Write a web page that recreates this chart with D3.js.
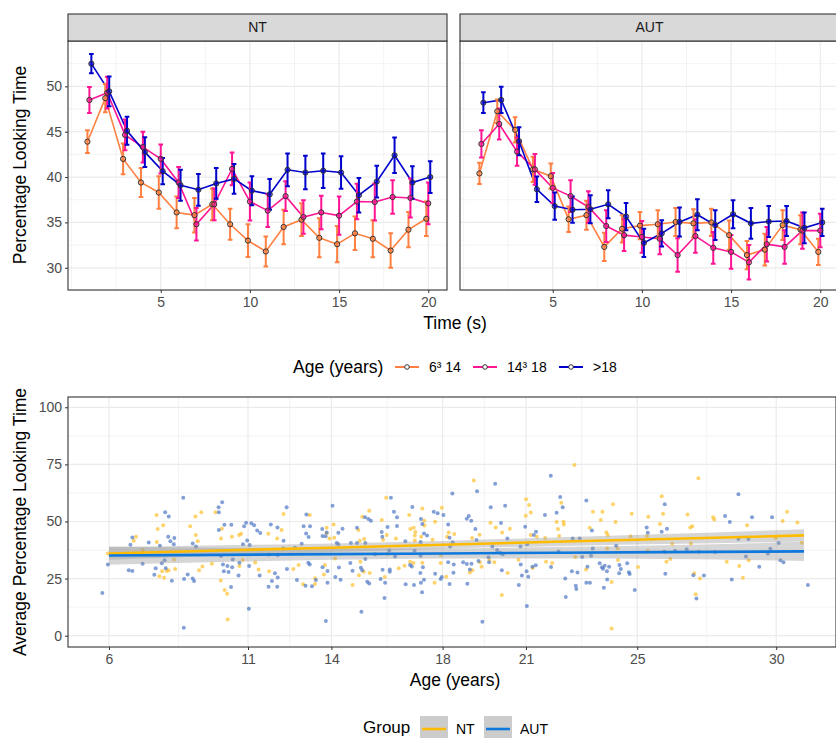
<!DOCTYPE html>
<html>
<head>
<meta charset="utf-8">
<script src="https://cdn.jsdelivr.net/npm/d3@7"></script>
<style>
  body { margin: 0; background: #fff; }
  text { font-family: "Liberation Sans", Arial, Helvetica, sans-serif; }
</style>
</head>
<body>
<svg id="chart" width="836" height="738"></svg>
<script>
// ---- data : looking time over the trial (mean +/- se) ----
var times = [1,2,3,4,5,6,7,8,9,10,11,12,13,14,15,16,17,18,19,20];
var facets = ["NT", "AUT"];
var ageGroups = ["6³ 14", "14³ 18", ">18"];
var ageColors = ["#FF8040", "#FF1493", "#0000CD"];

var ntYoung   = [43.9,48.7,42.0,39.4,38.3,36.1,35.8,37.0,34.8,33.0,31.8,34.5,35.3,33.3,32.6,33.8,33.2,31.9,34.2,35.4];
var ntYoungSe = [1.25,1.55,1.7,1.6,1.8,1.75,1.9,1.75,1.7,1.8,1.65,1.9,1.8,2.15,2.0,1.85,2.05,1.9,1.95,1.9];
var ntMid     = [48.5,49.3,44.65,43.3,42.0,39.4,34.8,37.0,40.9,37.3,36.3,37.9,35.6,36.1,35.75,37.3,37.25,37.8,37.7,37.1];
var ntMidSe   = [1.43,1.75,1.7,1.7,1.6,1.7,1.8,1.75,1.8,2.1,1.8,1.65,1.85,1.85,2.1,1.95,2.05,1.85,2.15,2.3];
var ntOld     = [52.5,49.45,45.1,42.75,40.65,39.1,38.6,39.3,39.8,38.5,38.1,40.8,40.5,40.7,40.5,38.0,39.5,42.4,39.4,40.0];
var ntOldSe   = [1.06,1.65,1.55,1.65,1.45,1.7,1.75,1.7,1.65,1.6,1.7,1.8,1.85,1.9,1.8,1.9,1.75,1.95,1.8,1.75];

var autYoung   = [40.4,47.25,45.2,40.85,40.1,35.35,35.8,32.3,34.3,34.65,34.8,35.05,34.9,35.0,33.6,31.4,32.0,34.7,34.2,31.75];
var autYoungSe = [1.17,1.3,1.4,1.4,1.4,1.4,1.6,1.55,1.5,1.5,1.55,1.55,1.55,1.5,1.6,1.55,1.75,1.65,1.6,1.45];
var autMid     = [43.65,45.85,42.8,40.85,38.8,37.9,36.7,34.6,33.6,33.4,33.2,31.4,33.5,32.2,31.75,30.6,32.6,32.3,34.1,34.1];
var autMidSe   = [1.5,1.7,1.55,1.7,1.65,1.75,1.75,1.75,1.75,1.75,1.7,1.85,1.85,1.75,1.85,1.9,1.9,1.85,2.0,1.85];
var autOld     = [48.2,48.5,43.95,38.65,36.8,36.4,36.45,37.0,35.65,32.75,33.8,35.05,35.85,34.7,35.9,34.9,35.1,35.15,34.4,35.0];
var autOldSe   = [1.15,1.45,1.55,1.4,1.5,1.45,1.55,1.55,1.5,1.55,1.45,1.6,1.7,1.65,1.55,1.7,1.7,1.65,1.7,1.5];

var timeTicks = [5,10,15,20];
var lookTicks = [30,35,40,45,50];

// ---- data : average looking time by age, one point per participant [age, %] ----
var groups = ["NT", "AUT"];
var groupColors = ["#FFBB00", "#0F78DC"];
var pointColors = ["#FFC12E", "#4F78C4"];

var autPoints = [
  [5.76,18.7],[5.96,31.2],[8.67,60.4],[8.02,54.0],[8.15,52.2],[6.84,43.0],[6.77,39.8],[7.43,40.8],[7.83,39.4],[8.13,43.3],
  [8.21,41.4],[8.35,42.8],[8.33,40.0],[7.21,31.5],[6.71,28.7],[6.84,28.3],[7.68,29.5],[7.63,26.7],[7.9,31.7],[8.0,33.0],
  [8.04,29.5],[8.26,24.1],[8.7,24.8],[8.83,26.8],[9.01,25.0],[9.06,23.9],[9.01,40.4],[9.13,39.0],[8.69,3.5],[9.94,56.2],
  [10.07,58.4],[9.95,54.0],[9.95,46.3],[10.15,48.6],[10.4,48.6],[10.1,31.2],[10.26,30.5],[10.13,28.2],[10.3,27.9],[10.39,21.3],
  [10.66,26.3],[10.43,30.0],[10.69,31.9],[10.82,40.0],[10.97,41.7],[11.06,39.7],[10.86,47.9],[10.93,49.5],[11.12,49.2],[11.22,48.4],
  [11.33,46.1],[11.44,45.0],[11.03,11.8],[11.04,30.5],[11.42,26.4],[11.82,48.7],[12.06,47.4],[11.74,21.4],[12.05,21.4],[11.86,23.9],
  [11.97,27.3],[12.07,25.5],[11.75,35.6],[12.07,35.3],[10.03,34.9],[10.45,33.4],
  [12.39,56.2],[13.1,53.1],[13.0,47.9],[13.23,47.9],[13.09,44.7],[13.18,43.2],[12.28,41.6],[12.26,38.2],[12.69,38.5],[12.93,40.3],
  [13.67,46.7],[13.83,45.2],[13.68,43.6],[13.79,43.5],[14.04,56.9],[14.25,45.1],[14.4,46.8],[14.19,40.6],[14.25,40.0],[13.86,28.3],
  [13.68,30.0],[12.76,24.4],[12.4,29.2],[13.07,21.9],[13.3,21.7],[13.44,24.4],[13.17,31.9],[13.22,31.2],[13.86,23.2],[14.14,25.7],
  [14.33,24.5],[14.27,29.9],[14.68,31.8],[14.76,28.4],[15.08,10.5],[13.8,6.4],[14.7,40.6],[14.92,40.6],[14.92,47.3],[15.21,51.8],
  [15.33,51.1],[15.42,50.3],[15.22,40.6],[15.06,29.8],[15.11,28.7],[15.29,23.6],[15.36,22.9],[15.22,33.6],[15.57,35.7],[15.91,16.5],
  [15.77,24.8],[15.93,23.2],[15.84,28.9],[16.1,29.0],[16.1,28.0],[15.81,45.4],[15.83,43.3],[16.02,47.6],[16.14,60.4],[16.25,54.3],
  [16.36,51.8],[16.36,48.0],[16.08,37.3],[16.66,41.4],[16.67,22.5],[16.83,30.9],[16.89,30.3],[16.99,37.2],[16.91,56.3],[17.22,51.1],
  [17.27,48.9],[17.33,44.7],[17.44,43.9],[17.21,41.0],[16.97,22.2],[17.22,23.2],[17.33,24.5],[17.26,19.0],[17.2,27.4],[17.29,30.0],
  [17.68,54.3],[17.82,53.6],[18.03,52.8],[18.2,48.7],[18.35,62.2],[18.25,42.9],[18.36,40.9],[18.27,39.0],[17.73,27.1],[17.97,25.7],
  [17.93,24.8],[18.25,22.6],[18.2,32.2],[18.4,31.2],[18.39,27.6],[17.21,35.0],[16.29,34.7],
  [19.24,63.2],[19.89,66.5],[21.89,70.0],[18.94,52.4],[18.87,51.2],[19.03,50.3],[19.18,46.7],[19.22,41.9],[19.73,56.2],[20.25,56.9],
  [20.1,49.3],[20.33,42.6],[19.79,39.0],[19.96,37.5],[20.07,36.3],[20.16,35.7],[20.97,47.7],[21.36,45.5],[21.28,44.1],[21.68,52.8],
  [22.1,53.8],[22.23,60.7],[22.32,56.2],[20.8,39.0],[21.04,40.0],[18.89,22.7],[18.74,32.1],[18.87,31.4],[19.04,31.5],[18.98,29.0],
  [19.29,32.7],[19.67,32.1],[19.65,34.3],[20.13,28.7],[20.81,31.2],[21.23,30.2],[21.35,30.8],[21.02,28.2],[20.85,26.3],[21.08,25.8],
  [20.74,22.2],[21.03,13.0],[19.43,6.1],[21.9,30.1],[22.41,25.0],[22.43,16.9],[22.65,28.2],[22.85,27.7],[22.79,21.9],[22.81,20.4],
  [22.68,42.6],[22.93,42.6],[23.02,34.4],[23.17,59.2],[23.37,46.0],[23.21,30.2],[23.17,23.2],[23.3,23.2],[23.34,35.0],[23.4,38.2],
  [23.8,21.0],[23.92,24.6],[23.65,31.7],[23.73,30.0],[23.77,29.3],[23.83,30.6],[23.91,28.2],[23.99,30.2],[24.24,39.4],[24.36,30.9],
  [24.41,29.2],[24.35,27.3],[24.64,31.7],[24.7,27.8],[24.73,27.0],[24.91,20.0],[22.17,36.9],
  [25.99,57.6],[25.34,47.4],[25.38,45.1],[25.88,45.5],[26.07,46.8],[26.01,27.1],[28.64,61.9],[28.16,52.4],[28.33,49.8],[29.13,51.8],
  [29.85,51.8],[26.36,37.2],[26.78,37.8],[27.21,36.8],[27.8,36.6],[28.64,42.3],[29.0,42.3],[28.91,34.7],[29.39,30.2],[29.7,36.0],
  [29.79,38.1],[30.09,40.6],[30.15,33.0],[30.26,32.2],[28.4,24.6],[27.4,26.4],[27.02,26.5],[27.13,16.3],[31.14,22.2],[25.98,36.8]
];

var ntPoints = [
  [5.96,36.0],[6.97,43.3],[6.89,41.6],[7.71,52.8],[7.75,46.7],[7.95,48.4],[7.72,41.0],[7.21,37.5],[7.91,28.2],[8.08,28.3],
  [8.14,28.6],[7.81,26.0],[7.98,25.4],[8.38,29.2],[8.34,33.4],[8.92,47.9],[9.11,52.2],[9.32,54.0],[9.12,44.1],[9.19,41.4],
  [9.24,28.6],[9.36,30.3],[9.7,31.5],[9.83,54.0],[10.06,46.8],[10.03,42.6],[10.42,43.3],[10.02,24.2],[10.16,20.0],[10.25,18.4],
  [10.27,7.1],[10.68,44.1],[10.75,44.6],[10.69,30.5],[10.81,33.1],[11.38,29.0],[11.26,32.0],[11.73,44.6],[12.05,42.5],[11.76,28.2],
  [12.28,53.3],[12.21,46.3],[13.22,52.8],[13.83,47.3],[13.83,44.9],[14.08,48.7],[14.1,42.9],[13.93,42.6],[12.63,29.2],[12.82,30.9],
  [12.98,22.5],[13.41,25.1],[13.41,22.6],[13.77,30.9],[13.73,26.8],[14.13,33.8],[14.76,22.2],[14.99,26.5],[15.16,28.0],[15.38,27.4],
  [15.04,32.4],[15.11,52.1],[15.36,54.7],[14.97,46.3],[15.02,41.6],[15.18,42.3],[15.81,50.6],[15.97,60.4],[15.99,44.1],[15.86,42.0],
  [15.92,25.7],[16.42,29.5],[16.32,42.6],[16.8,52.8],[16.84,46.7],[16.96,47.3],[17.02,45.4],[17.0,43.9],[17.0,41.7],[17.27,55.7],
  [17.34,50.3],[17.35,48.2],[17.23,43.3],[17.64,42.0],[17.73,49.9],[17.97,56.0],[18.22,45.2],[18.16,43.3],[18.42,44.5],[16.83,32.4],
  [16.63,30.6],[16.95,31.8],[17.27,31.9],[17.71,23.2],[17.93,31.8],[18.13,25.8],[17.94,35.3],[16.01,35.9],
  [19.12,67.9],[22.74,74.7],[21.0,59.7],[21.11,57.2],[20.99,52.5],[21.17,53.9],[22.27,58.2],[19.72,49.5],[19.91,47.4],[20.42,46.8],
  [20.14,45.2],[19.06,42.8],[19.33,44.2],[21.17,44.1],[21.39,43.3],[21.69,42.8],[22.15,46.7],[22.1,49.8],[22.35,49.9],[22.36,48.7],
  [22.19,43.6],[23.41,54.3],[23.75,54.3],[23.69,50.6],[24.13,57.5],[24.22,49.8],[24.8,53.4],[23.29,47.3],[23.89,45.2],[23.94,44.1],
  [24.76,43.5],[19.07,28.7],[18.98,27.7],[19.34,32.1],[19.4,30.2],[19.68,33.1],[19.86,32.2],[20.34,27.4],[20.73,33.3],[21.24,29.6],
  [21.72,32.4],[21.94,31.8],[20.13,17.8],[22.77,34.4],[23.16,29.0],[24.08,23.5],[24.08,3.2],[24.31,33.1],[24.3,38.2],[25.03,30.1],
  [23.92,38.2],
  [27.2,68.9],[25.88,61.0],[25.93,53.4],[25.4,52.1],[25.82,48.9],[26.81,53.1],[26.91,47.4],[26.98,47.9],[27.73,51.9],[27.77,50.9],
  [28.95,48.3],[30.39,54.3],[30.23,50.2],[30.76,49.6],[25.35,43.6],[26.26,40.3],[26.93,40.4],[26.05,32.4],[26.19,33.6],[28.22,32.4],
  [28.67,30.5],[29.01,33.0],[27.05,27.3],[27.26,25.0],[27.1,18.1],[28.8,25.4],[29.98,42.8],[30.92,40.7],[25.38,37.2]
];

// linear fits with 95% band half widths
var fitAges  = [6, 10, 14, 18, 22, 26, 31];
var ntFit    = [36.0, 37.3, 38.5, 39.8, 41.1, 42.3, 43.9];
var ntBand   = [2.8, 2.3, 1.9, 1.7, 1.9, 2.2, 2.7];
var autFit   = [35.1, 35.4, 35.7, 36.0, 36.3, 36.6, 36.9];
var autBand  = [4.0, 3.1, 2.5, 2.2, 2.5, 3.0, 4.2];

var ageTicks = [6, 11, 14, 18, 21, 25, 30];
var ageMinor = [8.5, 12.5, 16, 19.5, 23, 27.5];
var avgTicks = [0, 25, 50, 75, 100];

// ---- drawing ----
var svg = d3.select("#chart");
var gridCol = "#EBEBEB", borderCol = "#333333", tickTxt = "#4D4D4D";

function styleAxis(g) {
  g.select(".domain").remove();
  g.selectAll(".tick line").attr("stroke", borderCol).attr("stroke-width", 1);
  g.selectAll(".tick text").attr("fill", tickTxt).attr("font-size", 14);
}

// top row : facets
var yTop = d3.scaleLinear().domain([27.55, 55]).range([290, 41]);
var panelRanges = [[68, 447], [460, 839]];
var topSeries = [
  [[ntYoung, ntYoungSe], [ntMid, ntMidSe], [ntOld, ntOldSe]],
  [[autYoung, autYoungSe], [autMid, autMidSe], [autOld, autOldSe]]
];
var dodge = [-0.11, 0, 0.11];

facets.forEach(function(name, p) {
  var x = d3.scaleLinear().domain([-0.2, 21.05]).range(panelRanges[p]);
  var g = svg.append("g");
  var x0 = panelRanges[p][0], x1 = panelRanges[p][1];

  g.append("rect").attr("x", x0).attr("y", 41).attr("width", x1 - x0).attr("height", 249).attr("fill", "#fff");
  // minor grid
  [27.5, 32.5, 37.5, 42.5, 47.5, 52.5].forEach(function(v) {
    g.append("line").attr("x1", x0).attr("x2", x1).attr("y1", yTop(v)).attr("y2", yTop(v))
      .attr("stroke", gridCol).attr("stroke-width", 0.6);
  });
  [0, 2.5, 7.5, 12.5, 17.5].forEach(function(v) {
    g.append("line").attr("x1", x(v)).attr("x2", x(v)).attr("y1", 41).attr("y2", 290)
      .attr("stroke", gridCol).attr("stroke-width", 0.6);
  });
  lookTicks.forEach(function(v) {
    g.append("line").attr("x1", x0).attr("x2", x1).attr("y1", yTop(v)).attr("y2", yTop(v))
      .attr("stroke", gridCol).attr("stroke-width", 1.2);
  });
  timeTicks.forEach(function(v) {
    g.append("line").attr("x1", x(v)).attr("x2", x(v)).attr("y1", 41).attr("y2", 290)
      .attr("stroke", gridCol).attr("stroke-width", 1.2);
  });

  var series = topSeries[p];
  var line = d3.line();
  series.forEach(function(s, k) {
    g.append("path")
      .attr("d", line(times.map(function(t, i) { return [x(t + dodge[k]), yTop(s[0][i])]; })))
      .attr("fill", "none").attr("stroke", ageColors[k]).attr("stroke-width", 1.6);
  });
  series.forEach(function(s, k) {
    times.forEach(function(t, i) {
      var cx = x(t + dodge[k]), lo = yTop(s[0][i] - s[1][i]), hi = yTop(s[0][i] + s[1][i]);
      var w = x(t + dodge[k] + 0.13) - cx;
      g.append("path")
        .attr("d", "M" + (cx - w) + "," + hi + "H" + (cx + w) + "M" + cx + "," + hi + "V" + lo + "M" + (cx - w) + "," + lo + "H" + (cx + w))
        .attr("fill", "none").attr("stroke", ageColors[k]).attr("stroke-width", 2);
    });
  });
  series.forEach(function(s, k) {
    g.selectAll(null).data(times).enter().append("circle")
      .attr("cx", function(t) { return x(t + dodge[k]); })
      .attr("cy", function(t, i) { return yTop(s[0][i]); })
      .attr("r", 2.6).attr("fill", ageColors[k]).attr("fill-opacity", 0.6)
      .attr("stroke", "#333").attr("stroke-width", 1);
  });

  g.append("rect").attr("x", x0).attr("y", 41).attr("width", x1 - x0).attr("height", 249)
    .attr("fill", "none").attr("stroke", borderCol).attr("stroke-width", 1.1);
  // strip
  g.append("rect").attr("x", x0).attr("y", 14).attr("width", x1 - x0).attr("height", 27)
    .attr("fill", "#D9D9D9").attr("stroke", borderCol).attr("stroke-width", 1.1);
  g.append("text").attr("x", (x0 + x1) / 2).attr("y", 32).attr("text-anchor", "middle")
    .attr("font-size", 14).attr("fill", "#1A1A1A").text(name);

  g.append("g").attr("transform", "translate(0,290)")
    .call(d3.axisBottom(x).tickValues(timeTicks).tickSize(3).tickPadding(4))
    .call(styleAxis);
  if (p === 0) {
    g.append("g").attr("transform", "translate(" + x0 + ",0)")
      .call(d3.axisLeft(yTop).tickValues(lookTicks).tickSize(3).tickPadding(3))
      .call(styleAxis);
  }
});

svg.append("text").attr("transform", "translate(26,165) rotate(-90)").attr("text-anchor", "middle")
  .attr("font-size", 17.5).attr("fill", "#000").text("Percentage Looking Time");
svg.append("text").attr("x", 455).attr("y", 329).attr("text-anchor", "middle")
  .attr("font-size", 17.5).attr("fill", "#000").text("Time (s)");

// top legend
var leg1 = svg.append("g");
leg1.append("text").attr("x", 293).attr("y", 373).attr("font-size", 17.5).text("Age (years)");
var legX = [395, 473, 559];
ageGroups.forEach(function(lbl, k) {
  leg1.append("line").attr("x1", legX[k]).attr("x2", legX[k] + 24).attr("y1", 367).attr("y2", 367)
    .attr("stroke", ageColors[k]).attr("stroke-width", 2);
  leg1.append("circle").attr("cx", legX[k] + 12).attr("cy", 367).attr("r", 2.3)
    .attr("fill", "#fff").attr("stroke", "#333").attr("stroke-width", 1);
  leg1.append("text").attr("x", legX[k] + 34).attr("y", 372).attr("font-size", 14).text(lbl);
});

// bottom : scatter by age
var xAge = d3.scaleLinear().domain([4.525, 32.15]).range([68, 836]);
var yAvg = d3.scaleLinear().domain([-4.95, 104.5]).range([647, 397]);
var gb = svg.append("g");
gb.append("rect").attr("x", 68).attr("y", 397).attr("width", 768).attr("height", 250).attr("fill", "#fff");
[12.5, 37.5, 62.5, 87.5].forEach(function(v) {
  gb.append("line").attr("x1", 68).attr("x2", 836).attr("y1", yAvg(v)).attr("y2", yAvg(v))
    .attr("stroke", gridCol).attr("stroke-width", 0.6);
});
ageMinor.forEach(function(v) {
  gb.append("line").attr("x1", xAge(v)).attr("x2", xAge(v)).attr("y1", 397).attr("y2", 647)
    .attr("stroke", gridCol).attr("stroke-width", 0.6);
});
avgTicks.forEach(function(v) {
  gb.append("line").attr("x1", 68).attr("x2", 836).attr("y1", yAvg(v)).attr("y2", yAvg(v))
    .attr("stroke", gridCol).attr("stroke-width", 1.2);
});
ageTicks.forEach(function(v) {
  gb.append("line").attr("x1", xAge(v)).attr("x2", xAge(v)).attr("y1", 397).attr("y2", 647)
    .attr("stroke", gridCol).attr("stroke-width", 1.2);
});

[ntPoints, autPoints].forEach(function(pts, k) {
  gb.selectAll(null).data(pts).enter().append("circle")
    .attr("cx", function(d) { return xAge(d[0]); })
    .attr("cy", function(d) { return yAvg(d[1]); })
    .attr("r", 2).attr("fill", pointColors[k]).attr("fill-opacity", 0.7);
});

var fits = [[ntFit, ntBand], [autFit, autBand]];
var area = d3.area().curve(d3.curveMonotoneX)
  .x(function(d) { return xAge(d[0]); })
  .y0(function(d) { return yAvg(d[1] - d[2]); })
  .y1(function(d) { return yAvg(d[1] + d[2]); });
fits.forEach(function(f) {
  gb.append("path").attr("d", area(fitAges.map(function(a, i) { return [a, f[0][i], f[1][i]]; })))
    .attr("fill", "#999999").attr("fill-opacity", 0.4);
});
fits.forEach(function(f, k) {
  gb.append("path").attr("d", d3.line()(fitAges.map(function(a, i) { return [xAge(a), yAvg(f[0][i])]; })))
    .attr("fill", "none").attr("stroke", groupColors[k]).attr("stroke-width", 2.6);
});
gb.append("rect").attr("x", 68).attr("y", 397).attr("width", 768).attr("height", 250)
  .attr("fill", "none").attr("stroke", borderCol).attr("stroke-width", 1.1);

gb.append("g").attr("transform", "translate(0,647)")
  .call(d3.axisBottom(xAge).tickValues(ageTicks).tickSize(3).tickPadding(4))
  .call(styleAxis);
gb.append("g").attr("transform", "translate(68,0)")
  .call(d3.axisLeft(yAvg).tickValues(avgTicks).tickSize(3).tickPadding(3))
  .call(styleAxis);

svg.append("text").attr("transform", "translate(26,522) rotate(-90)").attr("text-anchor", "middle")
  .attr("font-size", 17.5).attr("fill", "#000").text("Average Percentage Looking Time");
svg.append("text").attr("x", 455).attr("y", 686).attr("text-anchor", "middle")
  .attr("font-size", 17.5).attr("fill", "#000").text("Age (years)");

// bottom legend
var leg2 = svg.append("g");
leg2.append("text").attr("x", 363).attr("y", 733).attr("font-size", 17).text("Group");
var keyX = [420, 484];
groups.forEach(function(lbl, k) {
  leg2.append("rect").attr("x", keyX[k]).attr("y", 716).attr("width", 28).attr("height", 28)
    .attr("fill", "#999999").attr("fill-opacity", 0.5);
  leg2.append("line").attr("x1", keyX[k] + 2).attr("x2", keyX[k] + 26).attr("y1", 729).attr("y2", 729)
    .attr("stroke", groupColors[k]).attr("stroke-width", 2.6);
  leg2.append("text").attr("x", keyX[k] + 36).attr("y", 734).attr("font-size", 14).text(lbl);
});
</script>
</body>
</html>
